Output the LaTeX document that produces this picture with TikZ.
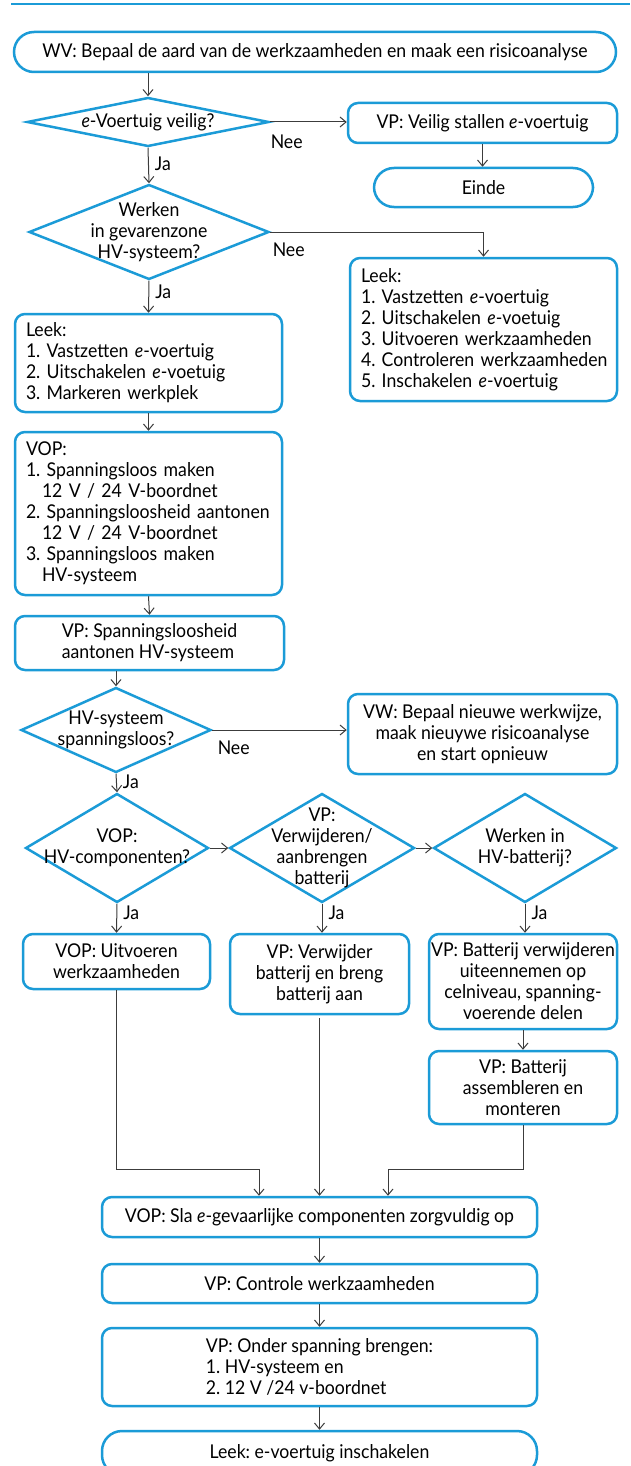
\documentclass[tikz,border=0pt]{standalone}
\usepackage{fontspec}
\setmainfont{Lato}[FakeStretch=0.93]
\usepackage{xcolor}
\definecolor{frameblue}{RGB}{27,155,215}
\definecolor{linegray}{RGB}{60,60,60}
\usepackage{tikz}
\usetikzlibrary{positioning,shapes.geometric}
\usetikzlibrary{arrows.meta}
\tikzset{>={Straight Barb[length=6pt,width=10pt]}}
\newcommand{\flowfont}{\fontsize{19}{21}\selectfont\frenchspacing\hyphenpenalty=10000\exhyphenpenalty=10000}
\tikzset{
  stepbox/.style ={ font=\flowfont, rectangle, rounded corners=10pt, draw=frameblue, line width=2.5pt,
                    fill=white, align=center, inner sep=0pt },
  listbox/.style ={ stepbox, align=left, inner xsep=11pt },
  endbox/.style  ={ stepbox, rounded corners=20pt },
  choice/.style  ={ font=\flowfont, diamond, draw=frameblue, line width=2.5pt, fill=white,
                    align=center, aspect=1, inner sep=-30pt },
%
  flow/.style    ={->, draw=linegray, line width=1pt},
  answer/.style  ={ font=\flowfont, inner sep=0pt },
  topline/.style ={ draw=frameblue, line width=1.5pt }
}

\begin{document}
\begin{tikzpicture}[x=1pt,y=-1pt]
        \useasboundingbox (0,0) rectangle (630,1466);
        \draw[topline] (11,4) -- (630,4);
        \node[endbox, minimum width=602, minimum height=40] (wv) at (315, 52) {WV: Bepaal de aard van de werkzaamheden en maak een risicoanalyse};
        \node[choice, minimum width=242, minimum height=49] (d1) at (148, 122) {\emph{e}-Voertuig veilig?};
        \node[stepbox, minimum width=269, minimum height=40] (stall) at (482.5, 123) {VP: Veilig stallen \emph{e}-voertuig};
        \node[endbox, minimum width=219, minimum height=39] (einde) at (483.5, 187.5) {Einde};
        \node[choice, minimum width=240, minimum height=95] (d2) at (149, 232) {Werken\\in gevarenzone\\HV-systeem?};
        \node[listbox, minimum width=267, minimum height=143, text width=245] (leekR) at (483.5, 329.5)
          {Leek:\\1. Vastzetten \emph{e}-voertuig\\2. Uitschakelen \emph{e}-voetuig\\3.~Uitvoeren~werkzaamheden\\4.~Controleren~werkzaamheden\\5. Inschakelen \emph{e}-voertuig};
        \node[listbox, minimum width=267, minimum height=98, text width=245] (leekL) at (148.5, 363)
          {Leek:\\1. Vastzetten \emph{e}-voertuig\\2. Uitschakelen \emph{e}-voetuig\\3. Markeren werkplek};
        \node[listbox, minimum width=267, minimum height=163, text width=245] (vop) at (148.5, 513.5)
          {VOP:\\1. Spanningsloos maken\\\hspace*{16pt}12 V / 24 V-boordnet\\2.~Spanningsloosheid~aantonen\\\hspace*{16pt}12 V / 24 V-boordnet\\3. Spanningsloos maken\\\hspace*{16pt}HV-systeem};
        \node[stepbox, minimum width=269, minimum height=54, align=left] (vpsp) at (149.5, 643) {VP: Spanningsloosheid\\aantonen HV-systeem};
        \node[choice, minimum width=190, minimum height=85] (d3) at (116, 730) {HV-systeem\\spanningsloos?};
        \node[stepbox, minimum width=269, minimum height=80] (vw) at (482.5, 734) {VW: Bepaal nieuwe werkwijze,\\maak nieuywe risicoanalyse\\en start opnieuw};
        \node[choice, minimum width=183, minimum height=109] (d4) at (117, 848) {VOP:\\HV-componenten?};
        \node[choice, minimum width=185, minimum height=109] (d5) at (322, 848) {VP:\\Verwijderen/\\aanbrengen\\batterij};
        \node[choice, minimum width=183, minimum height=109] (d6) at (525, 848) {Werken in\\HV-batterij?};
        \node[stepbox, minimum width=187, minimum height=55] (boxA) at (116.5, 961.5) {VOP: Uitvoeren\\werkzaamheden};
        \node[stepbox, minimum width=179, minimum height=80] (boxB) at (319.5, 974) {VP: Verwijder\\batterij en breng\\batterij aan};
        \node[stepbox, minimum width=188, minimum height=95] (boxC) at (523, 981.5) {VP: Batterij verwijderen\\uiteennemen op\\celniveau, spanning-\\voerende delen};
        \node[stepbox, minimum width=188, minimum height=73] (boxD) at (523, 1087.5) {VP: Batterij\\assembleren en\\monteren};
        \node[stepbox, minimum width=435, minimum height=40] (store) at (319.5, 1217) {VOP: Sla \emph{e}-gevaarlijke componenten zorgvuldig op};
        \node[stepbox, minimum width=435, minimum height=39] (check) at (319.5, 1283.5) {VP: Controle werkzaamheden};
        \node[stepbox, minimum width=435, minimum height=78, align=left] (power) at (319.5, 1367) {VP: Onder spanning brengen:\\1. HV-systeem en\\2. 12 V /24 v-boordnet};
        \node[endbox, minimum width=435, minimum height=44] (final) at (319.5, 1453) {Leek: e-voertuig inschakelen};
        \coordinate (mergeL) at (259, 1169);
        \coordinate (mergeR) at (388, 1169);
        \draw[flow] (wv.south -| d1.north) -- (d1.north);
        \draw[flow] (d1.east) -- (d1.east -| stall.west) node[answer, pos=0, below right=12pt and 0pt] (nee1) {Nee};
        \draw[flow] (stall.south) -- (stall.south |- einde.north);
        \draw[flow] (d1.south) -- (d2.north) node[answer, pos=.45, right=6pt] (ja1) {Ja};
        \draw[flow] (d2.east) -| (leekR.north) node[answer, pos=0, below right=10pt and 2pt] (nee2) {Nee};
        \draw[flow] (d2.south) -- (leekL.north) node[answer, pos=.35, right=6pt] (ja2) {Ja};
        \draw[flow] (leekL.south) -- (vop.north);
        \draw[flow] (vop.south) -- (vpsp.north);
        \draw[flow] (vpsp.south -| d3.north) -- (d3.north);
        \draw[flow] (d3.east) -- (d3.east -| vw.west) node[answer, pos=0, below right=10pt and 5pt] (nee3) {Nee};
        \draw[flow] (d3.south) -- (d4.north) node[answer, pos=.45, right=6pt] (ja3) {Ja};
        \draw[flow] (d4.east) -- (d5.west);
        \draw[flow] (d5.east) -- (d6.west);
        \draw[flow] (d4.south) -- (boxA.north) node[answer, pos=.3, right=6pt] (ja4) {Ja};
        \draw[flow] (d5.south) -- (d5.south |- boxB.north) node[answer, pos=.3, right=6pt] (ja5) {Ja};
        \draw[flow] (d6.south) -- (d6.south |- boxC.north) node[answer, pos=.3, right=6pt] (ja6) {Ja};
        \draw[flow] (boxC.south) -- (boxD.north);
        \draw[flow] (boxA.south) |- (mergeL) -- (mergeL |- store.north);
        \draw[flow] ([yshift=-3pt]boxB.south) -- (boxB.south |- store.north);
        \draw[flow] (boxD.south) |- (mergeR) -- (mergeR |- store.north);
        \draw[flow] (store.south) -- (check.north);
        \draw[flow] (check.south) -- (power.north);
        \draw[flow] (power.south) -- (final.north);
      \end{tikzpicture}
\end{document}
